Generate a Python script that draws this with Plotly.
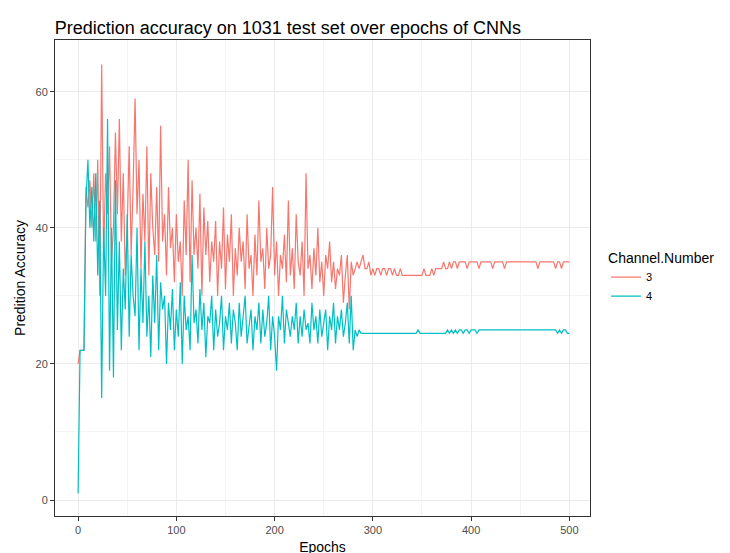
import plotly.graph_objects as go

# epochs sampled every 2
epochs = list(range(0, 501, 2))

acc_3 = [
    20, 22, 22, 22, 46, 43, 47, 40, 48, 38,
    50, 30, 64, 36, 48, 42, 52, 35, 40, 54,
    42, 56, 38, 48, 33, 40, 52, 36, 46, 59,
    42, 50, 34, 45, 38, 52, 33, 48, 40, 36,
    46, 35, 55, 38, 42, 33, 46, 37, 40, 32,
    42, 35, 38, 30, 44, 36, 50, 32, 47, 36,
    40, 34, 45, 30, 43, 36, 41, 32, 38, 35,
    41, 30, 38, 34, 43, 31, 39, 35, 42, 30,
    37, 33, 40, 35, 38, 31, 42, 34, 36, 30,
    39, 33, 44, 35, 37, 31, 40, 34, 36, 46,
    33, 38, 30, 36, 34, 39, 32, 44, 33, 37,
    31, 42, 35, 33, 38, 30, 48, 34, 36, 31,
    37, 33, 40, 32, 35, 30, 36, 34, 38, 32,
    35, 31, 34, 33, 36, 29, 33, 36, 28, 35,
    33, 34, 35, 34, 35, 36, 34, 34, 35, 33,
    34, 33, 34, 34, 33, 34, 34, 33, 34, 34,
    33, 34, 33, 33, 34, 33, 33, 33, 33, 33,
    33, 33, 33, 33, 33, 33, 34, 33, 33, 33,
    34, 33, 34, 34, 34, 34, 35, 34, 34, 35,
    34, 35, 35, 34, 35, 35, 35, 35, 34, 35,
    35, 35, 35, 35, 34, 35, 35, 35, 35, 35,
    35, 34, 35, 35, 35, 35, 35, 34, 35, 35,
    35, 35, 35, 35, 35, 35, 35, 35, 35, 35,
    35, 35, 35, 35, 34, 35, 35, 35, 35, 35,
    35, 35, 35, 34, 35, 35, 34, 35, 35, 35,
    35,
]

acc_4 = [
    1, 22, 22, 22, 44, 50, 40, 46, 38, 48,
    33, 44, 15, 40, 30, 56, 19, 40, 18, 47,
    25, 38, 22, 34, 28, 42, 24, 36, 30, 27,
    40, 22, 34, 26, 38, 24, 30, 21, 33, 26,
    36, 22, 32, 28, 30, 20, 29, 25, 31, 22,
    28, 24, 32, 20, 30, 25, 27, 22, 36, 26,
    28, 23, 31, 25, 29, 21, 27, 26, 30, 22,
    28, 24, 26, 30, 22, 27, 25, 29, 23, 28,
    26, 22, 29, 24, 27, 30, 23, 26, 28, 22,
    27, 25, 29, 23, 28, 24, 26, 30, 22, 27,
    24, 19, 27, 25, 30, 23, 28, 26, 24, 27,
    25, 29, 23, 27, 24, 28, 25, 26, 23, 29,
    25, 27, 23, 28, 24, 26, 28, 22, 27, 25,
    29, 23, 27, 25, 28, 24, 26, 29, 23, 30,
    22, 25, 24, 25, 24.5, 24.5, 24.5, 24.5, 24.5, 24.5,
    24.5, 24.5, 24.5, 24.5, 24.5, 24.5, 24.5, 24.5, 24.5, 24.5,
    24.5, 24.5, 24.5, 24.5, 24.5, 24.5, 24.5, 24.5, 24.5, 24.5,
    24.5, 24.5, 24.5, 25, 24.5, 24.5, 24.5, 24.5, 24.5, 24.5,
    24.5, 24.5, 24.5, 24.5, 24.5, 24.5, 24.5, 24.5, 25, 24.5,
    25, 24.5, 25, 24.5, 25, 25, 24.5, 25, 25, 24.5,
    25, 25, 25, 24.5, 25, 25, 25, 25, 25, 25,
    25, 25, 25, 25, 25, 25, 25, 25, 25, 25,
    25, 25, 25, 25, 25, 25, 25, 25, 25, 25,
    25, 25, 25, 25, 25, 25, 25, 25, 25, 25,
    25, 25, 25, 25, 24.5, 25, 24.5, 25, 25, 24.5,
    24.5,
]

fig = go.Figure()
fig.add_trace(go.Scatter(x=epochs, y=acc_3, mode='lines', name='3',
                         line=dict(color='#F8766D', width=1.2)))
fig.add_trace(go.Scatter(x=epochs, y=acc_4, mode='lines', name='4',
                         line=dict(color='#00BFC4', width=1.2)))

axis_common = dict(showline=True, linecolor='#333333', linewidth=1, mirror=True,
                   gridcolor='#EBEBEB', zeroline=False, ticks='outside',
                   ticklen=4, tickcolor='#333333', automargin=False,
                   tickfont=dict(size=11, color='#4D4D4D'))

fig.update_layout(
    width=730, height=553,
    paper_bgcolor='white', plot_bgcolor='white',
    font=dict(family='Liberation Sans, Arial, sans-serif', color='black'),
    title=dict(text='Prediction accuracy on 1031 test set over epochs of CNNs',
               x=0.064, xanchor='left', y=0.975, font=dict(size=18)),
    margin=dict(l=47, r=148, t=32, b=45),
    xaxis=dict(axis_common, range=[-23.5, 521], tickvals=[0, 100, 200, 300, 400, 500],
               minor=dict(showgrid=True, gridcolor='#F4F4F4', tickvals=[50, 150, 250, 350, 450]),
               title=dict(text='Epochs', font=dict(size=14), standoff=6)),
    yaxis=dict(axis_common, range=[-2.35, 67.6], tickvals=[0, 20, 40, 60],
               minor=dict(showgrid=True, gridcolor='#F4F4F4', tickvals=[10, 30, 50]),
               title=dict(text='Predition Accuracy', font=dict(size=14), standoff=6)),
    legend=dict(title=dict(text='Channel.Number', font=dict(size=14)),
                x=1.03, xanchor='left', y=0.5, yanchor='middle',
                font=dict(size=11)),
)

fig.write_html("out.html")
